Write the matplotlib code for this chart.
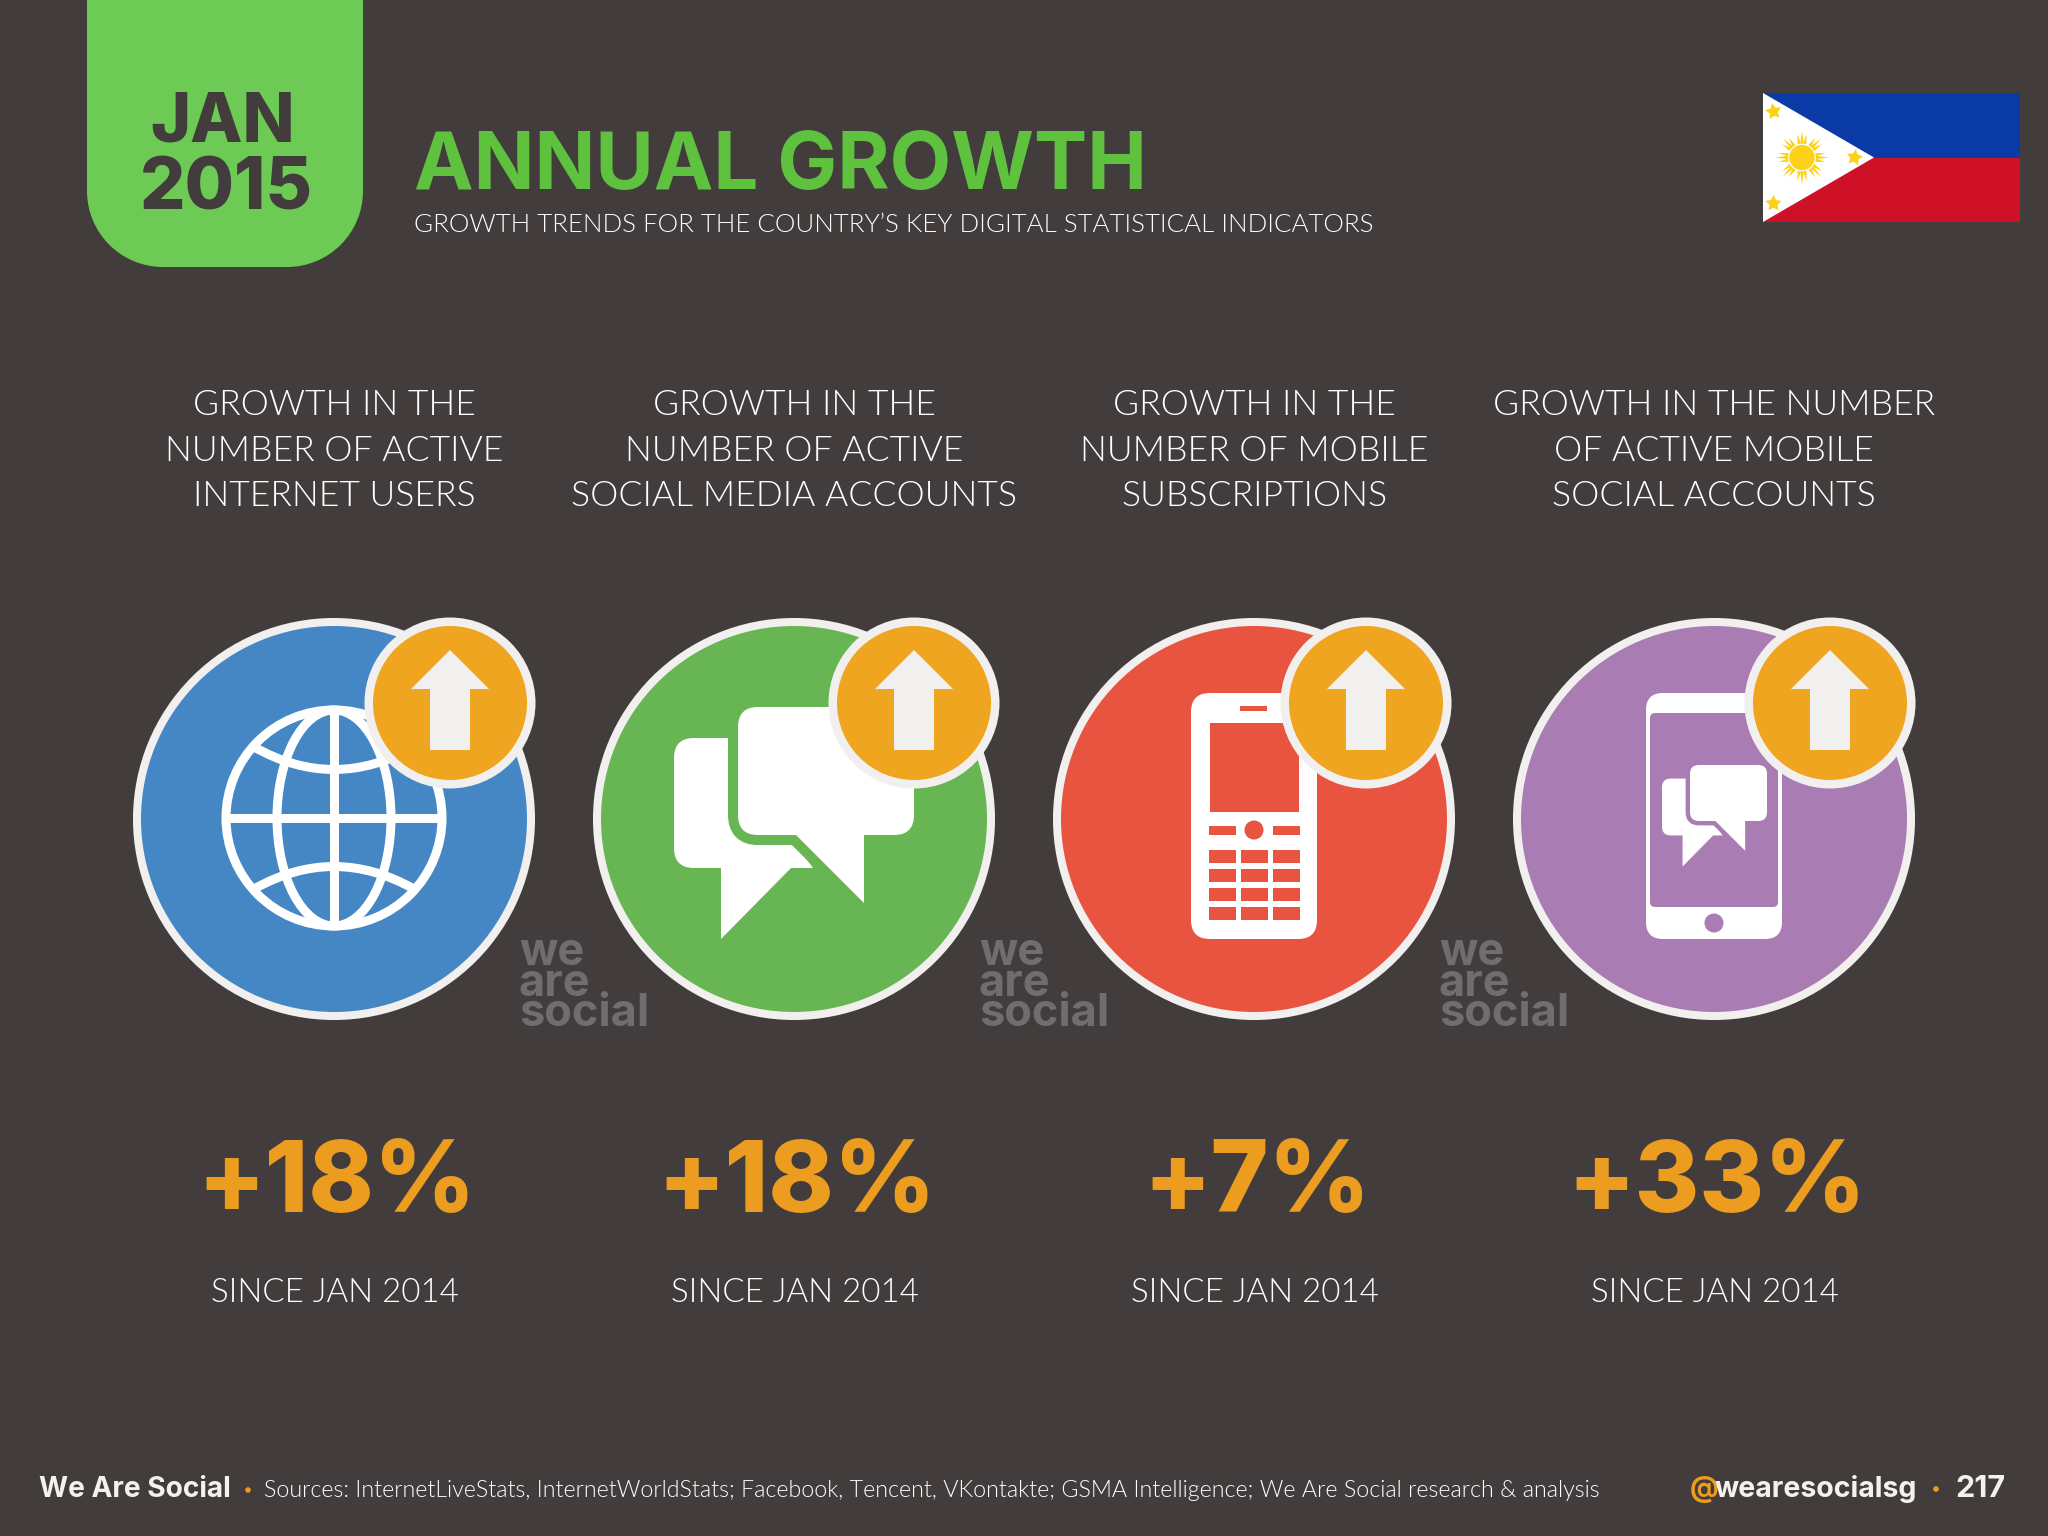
import numpy as np
import matplotlib
matplotlib.use("Agg")
import matplotlib.pyplot as plt
from matplotlib.patches import Circle, Ellipse, FancyBboxPatch, PathPatch, Polygon, Rectangle
from matplotlib.path import Path

# chart values
growth = [18, 18, 7, 33]
since_label = "SINCE JAN 2014"
headers = [
    ["GROWTH IN THE", "NUMBER OF ACTIVE", "INTERNET USERS"],
    ["GROWTH IN THE", "NUMBER OF ACTIVE", "SOCIAL MEDIA ACCOUNTS"],
    ["GROWTH IN THE", "NUMBER OF MOBILE", "SUBSCRIPTIONS"],
    ["GROWTH IN THE NUMBER", "OF ACTIVE MOBILE", "SOCIAL ACCOUNTS"],
]
title = "ANNUAL GROWTH"
subtitle = "GROWTH TRENDS FOR THE COUNTRY\u2019S KEY DIGITAL STATISTICAL INDICATORS"
date_lines = ["JAN", "2015"]
sources = "Sources: InternetLiveStats, InternetWorldStats; Facebook, Tencent, VKontakte; GSMA Intelligence; We Are Social research & analysis"

BG = "#423d3c"
RING = "#f2f0ee"
ORANGE = "#f0a521"
PCT = "#ec9c1f"
WATERMARK = "#716d6e"
WHITE = "#ffffff"
TEXT = "#f4f2f0"
circle_colors = ["#4587c4", "#67b653", "#e85440", "#a97cb3"]

column_x = [334, 794, 1254, 1714]
badge_x = [450, 914, 1366, 1830]
CY = 819
BADGE_Y = 703

fig = plt.figure(figsize=(20.48, 15.36), dpi=100, facecolor=BG)
ax = fig.add_axes([0, 0, 1, 1])
ax.set_xlim(0, 2048)
ax.set_ylim(1536, 0)
ax.axis("off")


def px(v):
    # line widths are in points, the axes are in pixels
    return v * 0.72


def label(x, y, s, size, weight="normal", color=WHITE, ha="center", family="Lato", **kw):
    return ax.text(x, y, s, fontsize=size, fontweight=weight, color=color, ha=ha,
                   va="baseline", family=family, zorder=20, **kw)


def round_box(x0, y0, x1, y1, r, color, z, edge=None, lw=0):
    p = FancyBboxPatch((x0, y0), x1 - x0, y1 - y0, boxstyle=f"round,pad=0,rounding_size={r}",
                       fc=color, ec=edge if edge else "none", lw=lw, zorder=z)
    ax.add_patch(p)
    return p


def draw_tab():
    green = "#6dcb55"
    ax.add_patch(Rectangle((87, 0), 276, 191, fc=green, ec="none", zorder=1))
    ax.add_patch(Rectangle((163, 191), 124, 76, fc=green, ec="none", zorder=1))
    ax.add_patch(Circle((163, 191), 76, fc=green, ec="none", zorder=1))
    ax.add_patch(Circle((287, 191), 76, fc=green, ec="none", zorder=1))


def draw_globe(cx, cy, z):
    lw = px(9)
    ax.add_patch(Circle((cx, cy), 108, fc="none", ec=WHITE, lw=lw, zorder=z))
    ax.add_patch(Ellipse((cx, cy), 114, 216, fc="none", ec=WHITE, lw=lw, zorder=z))
    ax.plot([cx, cx], [cy - 108, cy + 108], color=WHITE, lw=lw, zorder=z, solid_capstyle="butt")
    ax.plot([cx - 108, cx + 108], [cy, cy], color=WHITE, lw=lw, zorder=z, solid_capstyle="butt")
    for sign in (-1, 1):
        verts = [(cx - 80, cy + sign * 71), (cx, cy + sign * 26), (cx + 80, cy + sign * 71)]
        path = Path(verts, [Path.MOVETO, Path.CURVE3, Path.CURVE3])
        ax.add_patch(PathPatch(path, fc="none", ec=WHITE, lw=lw, zorder=z))


def draw_bubbles(x0, y0, scale, bg_color, z):
    # shapes measured on the large icon, x0/y0 is the top left corner of the front bubble
    def tx(x):
        return x0 + scale * (x - 738)

    def ty(y):
        return y0 + scale * (y - 707)

    # back bubble
    round_box(tx(674), ty(738), tx(800), ty(868), 20 * scale, WHITE, z)
    ax.add_patch(Polygon([(tx(721), ty(860)), (tx(721), ty(939)), (tx(791), ty(868)), (tx(813), ty(868)),
                          (tx(800), ty(850))], fc=WHITE, ec="none", zorder=z))
    # front bubble with a gap around it
    gap = px(20 * scale)
    tail = [(tx(796), ty(835)), (tx(864), ty(903)), (tx(864), ty(835))]
    round_box(tx(738), ty(707), tx(914), ty(835), 20 * scale, bg_color, z + 1, edge=bg_color, lw=gap)
    ax.add_patch(Polygon(tail, fc=bg_color, ec=bg_color, lw=gap, zorder=z + 1))
    round_box(tx(738), ty(707), tx(914), ty(835), 20 * scale, WHITE, z + 2)
    ax.add_patch(Polygon(tail, fc=WHITE, ec="none", zorder=z + 2))


def draw_feature_phone(cx, bg_color, z):
    round_box(cx - 63, 693, cx + 63, 939, 19, WHITE, z)
    ax.add_patch(Rectangle((cx - 14, 706), 27, 5, fc=bg_color, ec="none", zorder=z + 1))
    ax.add_patch(Rectangle((cx - 44, 723), 89, 89, fc=bg_color, ec="none", zorder=z + 1))
    ax.add_patch(Rectangle((cx - 45, 826), 27, 9, fc=bg_color, ec="none", zorder=z + 1))
    ax.add_patch(Rectangle((cx + 19, 826), 27, 9, fc=bg_color, ec="none", zorder=z + 1))
    ax.add_patch(Circle((cx, 830), 9.5, fc=bg_color, ec="none", zorder=z + 1))
    for top in (850, 869, 888, 907):
        for left in (-45, -13, 19):
            ax.add_patch(Rectangle((cx + left, top), 27, 13, fc=bg_color, ec="none", zorder=z + 1))


def draw_smart_phone(cx, bg_color, z):
    round_box(cx - 68, 693, cx + 68, 939, 17, WHITE, z)
    round_box(cx - 64, 713, cx + 64, 907, 5, bg_color, z + 1)
    ax.add_patch(Circle((cx, 923), 9.5, fc=bg_color, ec="none", zorder=z + 1))
    draw_bubbles(1690, 765, 0.4375, bg_color, z + 2)


def draw_badge(cx, cy, z):
    ax.add_patch(Circle((cx, cy), 85.5, fc=RING, ec="none", zorder=z))
    ax.add_patch(Circle((cx, cy), 77, fc=ORANGE, ec="none", zorder=z + 1))
    arrow = [(cx, cy - 53), (cx + 39, cy - 14), (cx + 20, cy - 14), (cx + 20, cy + 47),
             (cx - 20, cy + 47), (cx - 20, cy - 14), (cx - 39, cy - 14)]
    ax.add_patch(Polygon(arrow, fc=RING, ec="none", zorder=z + 2))


def draw_flag():
    x0, x1, y0, y1 = 1763, 2020, 93, 222
    ym = (y0 + y1) / 2
    ax.add_patch(Rectangle((x0, y0), x1 - x0, ym - y0, fc="#0a3aa6", ec="none"))
    ax.add_patch(Rectangle((x0, ym), x1 - x0, y1 - ym, fc="#ce1126", ec="none"))
    ax.add_patch(Polygon([(x0, y0), (1874, ym), (x0, y1)], fc=WHITE, ec="none", zorder=2))
    yellow = "#fcd116"
    sx, sy = 1802, ym
    ax.add_patch(Circle((sx, sy), 12.7, fc=yellow, ec="none", zorder=3))
    for deg in range(0, 360, 45):
        for off, r_out in ((0, 27), (-11, 24), (11, 24)):
            a = np.radians(deg + off)
            half = np.radians(7)
            tip = (sx + r_out * np.cos(a), sy + r_out * np.sin(a))
            b1 = (sx + 14 * np.cos(a - half), sy + 14 * np.sin(a - half))
            b2 = (sx + 14 * np.cos(a + half), sy + 14 * np.sin(a + half))
            ax.add_patch(Polygon([tip, b1, b2], fc=yellow, ec="none", zorder=3))
    for sxx, syy, rot in ((1773, 111, 10), (1773, 203, 0), (1854, 157, -10)):
        ax.plot([sxx], [syy], marker=(5, 1, rot), ms=px(17), color=yellow, mew=0, zorder=3)


# header block
draw_tab()
label(223, 142, date_lines[0], 49, 800, BG, family="Inter")
label(226, 209, date_lines[1], 51.5, 800, BG, family="Inter")
label(414, 189, title, 57.5, 700, "#5ec23f", "left", "Inter")
label(414, 232, subtitle, 18.65, 300, WHITE, "left", "Lato")
draw_flag()

# columns
for i, x in enumerate(column_x):
    for j, line in enumerate(headers[i]):
        label(x, 415 + j * 45.7, line, 25.6, 300, WHITE)
    ax.add_patch(Circle((x, CY), 201, fc=RING, ec="none", zorder=3))
    ax.add_patch(Circle((x, CY), 193, fc=circle_colors[i], ec="none", zorder=4))
    label(x + 3, 1212, f"+{growth[i]}%", 71, 800, PCT, family="Inter")
    label(x + 1, 1302, since_label, 23.8, 300, WHITE)

draw_globe(column_x[0], CY - 1, 5)
draw_bubbles(738, 707, 1.0, circle_colors[1], 5)
draw_feature_phone(column_x[2], circle_colors[2], 5)
draw_smart_phone(column_x[3], circle_colors[3], 5)
for x in badge_x:
    draw_badge(x, BADGE_Y, 12)
for x in (519, 979, 1439):
    label(x, 1026, "we\nare\nsocial", 32.5, "bold", WATERMARK, "left", "Inter", linespacing=0.65)

# footer
label(39, 1497, "We Are Social", 20.2, 700, TEXT, "left", "Inter")
ax.add_patch(Circle((248, 1490), 2.8, fc=PCT, ec="none"))
label(264, 1497, sources, 16.75, 300, WHITE, "left", "Lato")
label(1690, 1497, "@", 20.5, 700, PCT, "left", "Inter")
label(1715, 1497, "wearesocialsg", 20.5, 700, TEXT, "left", "Inter")
ax.add_patch(Circle((1936, 1489), 2.8, fc=PCT, ec="none"))
label(1955, 1497, "217", 22, 700, TEXT, "left", "Inter")

fig.savefig("out.png", dpi=100, facecolor=BG)
